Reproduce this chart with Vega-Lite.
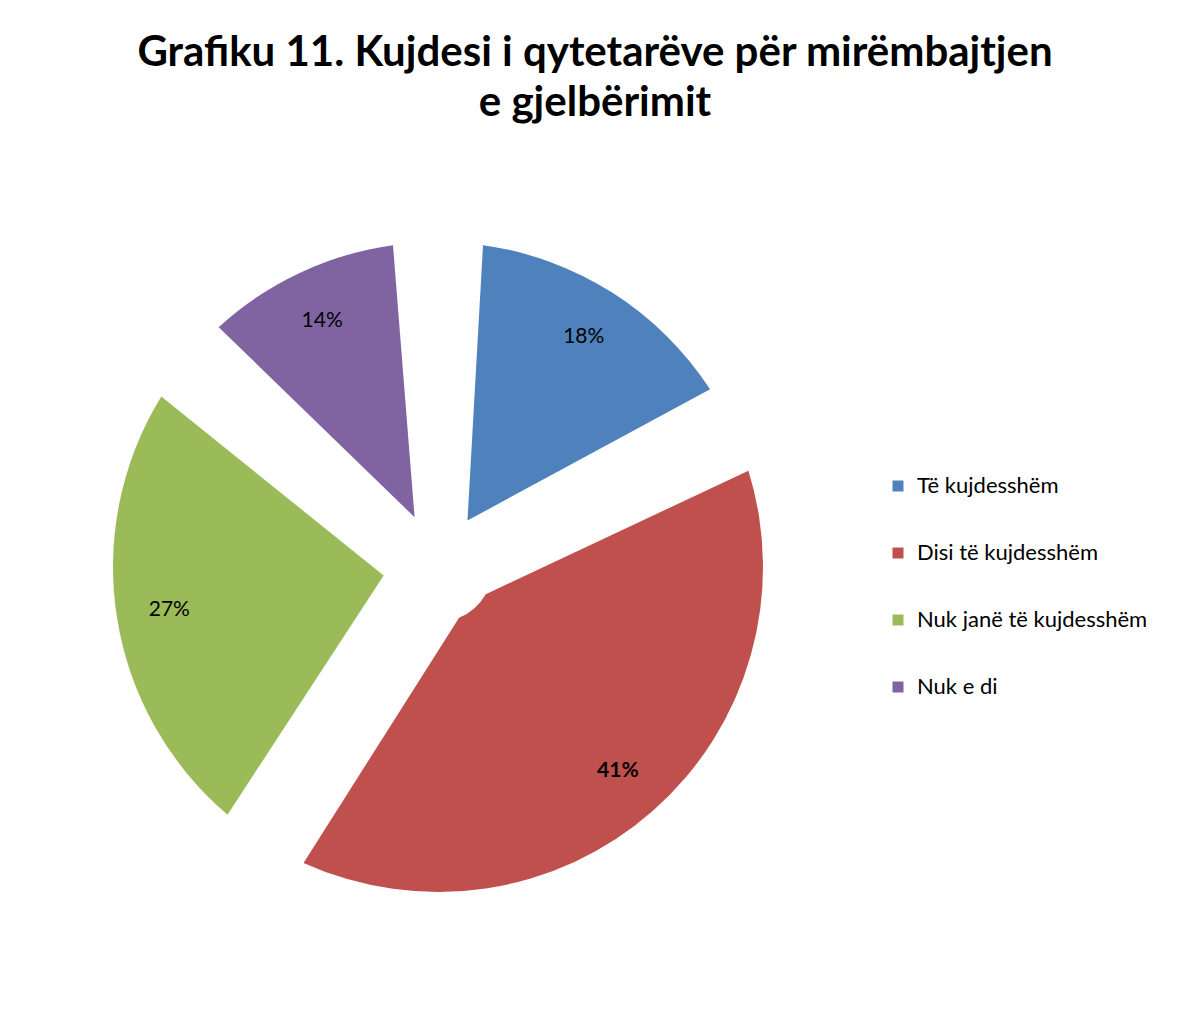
{
  "$schema": "https://vega.github.io/schema/vega-lite/v6.json",
  "autosize": {"type": "none"},
  "width": 644,
  "height": 644,
  "padding": {"left": 116, "top": 245, "right": 417, "bottom": 120},
  "background": "white",
  "config": {"view": {"stroke": null}, "font": "Lato"},
  "title": {
    "text": ["Grafiku 11. Kujdesi i qytetarëve për mirëmbajtjen", "e gjelbërimit"],
    "font": "Lato",
    "fontSize": 42,
    "fontWeight": "bold",
    "color": "#000000",
    "lineHeight": 50,
    "anchor": "middle",
    "frame": "group",
    "dx": 157,
    "offset": 120
  },
  "data": {
    "values": [
      {"category": "Të kujdesshëm", "value": 18, "label": "18%", "rank": 1},
      {"category": "Disi të kujdesshëm", "value": 41, "label": "41%", "rank": 2},
      {"category": "Nuk janë të kujdesshëm", "value": 27, "label": "27%", "rank": 3},
      {"category": "Nuk e di", "value": 14, "label": "14%", "rank": 4}
    ]
  },
  "encoding": {
    "theta": {"field": "value", "type": "quantitative", "stack": true},
    "order": {"field": "rank", "type": "quantitative"},
    "color": {
      "field": "category",
      "type": "nominal",
      "sort": ["Të kujdesshëm", "Disi të kujdesshëm", "Nuk janë të kujdesshëm", "Nuk e di"],
      "scale": {
        "domain": ["Të kujdesshëm", "Disi të kujdesshëm", "Nuk janë të kujdesshëm", "Nuk e di"],
        "range": ["#4F81BD", "#C0504D", "#9BBB59", "#8064A2"]
      },
      "legend": {
        "title": null,
        "orient": "none",
        "legendX": 771,
        "legendY": 230,
        "symbolType": "square",
        "symbolSize": 121,
        "symbolStrokeWidth": 0,
        "labelFont": "Lato",
        "labelFontSize": 22,
        "labelColor": "#000000",
        "labelOffset": 8,
        "rowPadding": 45,
        "labelLimit": 400
      }
    }
  },
  "layer": [
    {
      "mark": {"type": "arc", "innerRadius": 55, "outerRadius": 325, "padAngle": 0.274}
    },
    {
      "mark": {"type": "text", "radius": 272, "font": "Lato", "fontSize": 21, "color": "#000000", "align": "center", "baseline": "middle"},
      "encoding": {
        "text": {"condition": {"test": "datum.value === 41", "value": ""}, "field": "label"},
        "color": {"value": "#000000"}
      }
    },
    {
      "mark": {"type": "text", "radius": 272, "font": "Lato", "fontSize": 21, "fontWeight": "bold", "color": "#000000", "align": "center", "baseline": "middle"},
      "encoding": {
        "text": {"condition": {"test": "datum.value !== 41", "value": ""}, "field": "label"},
        "color": {"value": "#000000"}
      }
    }
  ]
}
